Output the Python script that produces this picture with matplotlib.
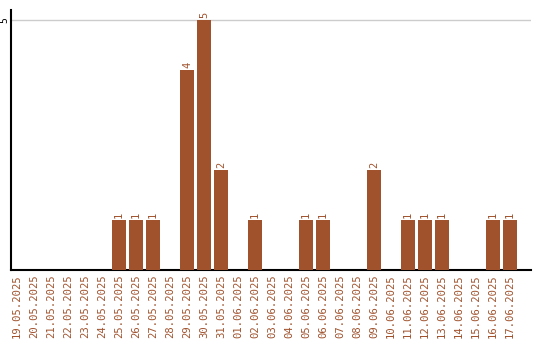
import matplotlib
matplotlib.use("Agg")
import matplotlib.pyplot as plt

dates = ["19.05.2025", "20.05.2025", "21.05.2025", "22.05.2025", "23.05.2025",
         "24.05.2025", "25.05.2025", "26.05.2025", "27.05.2025", "28.05.2025",
         "29.05.2025", "30.05.2025", "31.05.2025", "01.06.2025", "02.06.2025",
         "03.06.2025", "04.06.2025", "05.06.2025", "06.06.2025", "07.06.2025",
         "08.06.2025", "09.06.2025", "10.06.2025", "11.06.2025", "12.06.2025",
         "13.06.2025", "14.06.2025", "15.06.2025", "16.06.2025", "17.06.2025"]
counts = [0, 0, 0, 0, 0, 0, 1, 1, 1, 0, 4, 5, 2, 0, 1, 0, 0, 1, 1, 0, 0, 2, 0, 1, 1, 1, 0, 0, 1, 1]

color = "#A0522D"
fig = plt.figure(figsize=(5.4, 3.4), dpi=100)
ax = fig.add_axes([11/540, 1 - 270/340, 520/540, 260/340])
x = list(range(len(dates)))
ax.bar(x, counts, width=0.82, color=color, zorder=3)
for xi, v in zip(x, counts):
    if v > 0:
        ax.text(xi, v + 0.04, str(v), rotation=90, ha="center", va="bottom",
                color=color, fontsize=7.5, family="DejaVu Sans Mono")
ax.set_xlim(-0.35, 30.24)
ax.set_ylim(0, 5.2)
ax.set_yticks([5])
ax.set_yticklabels(["5"], rotation=90, va="center", fontsize=7, family="DejaVu Sans Mono")
ax.yaxis.grid(True, color="#cccccc", linewidth=1, zorder=0)
ax.set_xticks(x)
ax.set_xticklabels(dates, rotation=90, fontsize=7.6, family="DejaVu Sans Mono", color=color)
ax.tick_params(axis="both", length=0, pad=3)
ax.tick_params(axis="y", pad=1)
for s in ["top", "right"]:
    ax.spines[s].set_visible(False)
for s in ["left", "bottom"]:
    ax.spines[s].set_linewidth(1.5)
fig.savefig("out.png", dpi=100)
